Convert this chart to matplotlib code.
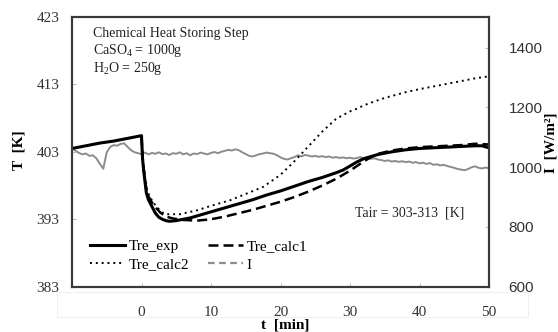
import numpy as np
import matplotlib
matplotlib.use("Agg")
import matplotlib.pyplot as plt
from matplotlib.lines import Line2D
from matplotlib.patches import Rectangle

plt.rcParams["font.family"] = ["Liberation Serif", "DejaVu Serif"]
plt.rcParams["mathtext.fontset"] = "custom"
plt.rcParams["mathtext.rm"] = "Liberation Serif"
plt.rcParams["mathtext.it"] = "Liberation Serif:italic"
plt.rcParams["mathtext.bf"] = "Liberation Serif:bold"

# --- data ---
t_exp = [-10, -8, -6, -4, -2, 0, 0.15, 0.3, 0.7, 1.0, 1.5, 2, 2.5, 3, 3.5, 4, 5, 6, 7, 8,
         10, 12, 14, 16, 18, 20, 22, 24, 26, 28, 29, 30, 31, 32, 33, 34, 36, 38, 40,
         42, 44, 46, 48, 49, 50]
T_exp = [403.5, 403.9, 404.3, 404.6, 405.0, 405.4, 402.0, 400.3, 396.9, 395.9, 394.9, 393.9,
         393.3, 393.0, 392.8, 392.7, 392.8, 393.0, 393.2, 393.5,
         394.1, 394.7, 395.3, 395.9, 396.6, 397.2, 397.9, 398.6, 399.2, 399.9, 400.3,
         400.9, 401.5, 402.0, 402.3, 402.6, 403.0, 403.3, 403.5,
         403.6, 403.7, 403.8, 403.9, 403.9, 403.6]

t_calc1 = [0, 0.15, 0.3, 0.7, 1, 1.5, 2, 2.7, 3.5, 4.6, 6, 8, 10, 12, 14, 16, 18, 20, 22,
           24, 26, 28, 30, 31, 32, 33, 34, 36, 38, 40, 42, 44, 46, 48, 50]
T_calc1 = [405.4, 402.3, 400.6, 397.4, 396.4, 395.5, 394.8, 394.0, 393.4, 393.1, 392.9, 392.8,
           393.0, 393.4, 393.9, 394.4, 395.0, 395.6, 396.3,
           397.1, 398.0, 399.0, 400.2, 400.9, 401.6, 402.2, 402.7, 403.2, 403.5, 403.7,
           403.8, 403.9, 404.0, 404.2, 404.1]

t_calc2 = [0, 0.15, 0.3, 0.7, 1, 1.5, 2.2, 3, 3.6, 5.5, 7.9, 10, 12.7, 15.1, 17.5, 20, 22,
           24, 26, 28, 30, 31, 32, 33.3, 35, 38.2, 40, 43, 46, 48, 50]
T_calc2 = [405.4, 402.4, 400.8, 397.8, 396.8, 395.8, 394.8, 394.0, 393.75, 393.75, 394.3, 395.0,
           395.8, 396.8, 397.8, 399.6, 401.6,
           403.8, 406.0, 407.9, 409.0, 409.4, 409.9, 410.4, 411.0, 411.9, 412.3, 412.9,
           413.5, 413.9, 414.2]

# irradiance I [W/m2], every 0.5 min from -10 to 50
I_vals = [1063, 1055, 1048, 1043, 1046, 1038, 1040, 1030, 1012, 995,
          1050, 1068, 1074, 1072, 1078, 1080, 1068, 1057, 1050, 1047, 1044,
          1049, 1043, 1048, 1045, 1050, 1044, 1046, 1041, 1047, 1045,
          1050, 1043, 1047, 1040, 1046, 1044, 1049, 1046, 1043, 1048,
          1051, 1047, 1052, 1055, 1058, 1056, 1060, 1057, 1050, 1044,
          1038, 1036, 1040, 1044, 1046, 1049, 1047, 1045, 1040, 1033,
          1028, 1026, 1030, 1034, 1040, 1036, 1041, 1039, 1036, 1038,
          1035, 1037, 1034, 1036, 1032, 1034, 1031, 1033, 1030, 1032,
          1029, 1031, 1034, 1030, 1032, 1028, 1030, 1026, 1024, 1021,
          1023, 1019, 1021, 1018, 1020, 1017, 1019, 1015, 1017, 1013,
          1015, 1011, 1014, 1008, 1010, 1006, 1008, 1004, 1001, 998,
          994, 992, 990, 994, 1000, 1003, 998, 996, 999, 996]
t_I = np.arange(-10, 50.01, 0.5)
assert len(t_I) == len(I_vals)

x_ticks = [0, 10, 20, 30, 40, 50]
T_ticks = [383, 393, 403, 413, 423]
I_ticks = [600, 800, 1000, 1200, 1400]

fig = plt.figure(figsize=(5.58, 3.32), dpi=100)
ax = fig.add_axes([72 / 558, 1 - 286.7 / 332, 417 / 558, 269.7 / 332])
ax2 = ax.twinx()
ax.set_zorder(ax2.get_zorder() + 1)
ax.patch.set_visible(False)

ax2.plot(t_I, I_vals, color="#8c8c8c", lw=1.4)
ax.plot(t_exp, T_exp, color="black", lw=2.2, solid_joinstyle="round")
ax.plot(t_calc1, T_calc1, color="black", lw=1.8, dashes=(4, 2))
ax.plot(t_calc2, T_calc2, color="black", lw=1.4, dashes=(1, 2))

ax.set_xlim(-10, 50)
ax.set_ylim(383, 423)
ax2.set_ylim(600, 1503)
ax.set_xticks(x_ticks)
ax.set_yticks(T_ticks)
ax2.set_yticks(I_ticks)

ax.tick_params(axis="x", direction="in", length=3, color="#bbbbbb", pad=14,
               labelsize=11, labelcolor="#333333")
ax.tick_params(axis="y", direction="in", length=3, color="#bbbbbb", pad=9,
               labelsize=11, labelcolor="#333333")
ax2.tick_params(axis="y", direction="in", length=3, color="#bbbbbb", pad=14,
                labelsize=11, labelcolor="#333333")
for lab in ax2.get_yticklabels():
    lab.set_fontfamily("Liberation Sans")

for a in (ax, ax2):
    for s in a.spines.values():
        s.set_color("#3a3a3a")
        s.set_linewidth(1.5)

fig.text(19 / 558, 1 - 150 / 332, "T  [K]", rotation=90, ha="center", va="center",
         fontsize=11, fontweight="bold")
fig.text(551 / 558, 1 - 143 / 332, "I  [W/m²]", rotation=90, ha="center", va="center",
         fontsize=11, fontweight="bold")
fig.text(285 / 558, 1 - 325 / 332, "t  [min]", ha="center", va="center",
         fontsize=11, fontweight="bold")

fig.patches.append(Rectangle((57 / 558, 1 - 317 / 332), 471 / 558, 25 / 332,
                             transform=fig.transFigure, fill=False,
                             edgecolor="#f0f0f0", lw=0.8))

ax.text(0.05, 0.94, "Chemical Heat Storing Step", transform=ax.transAxes,
        fontsize=10, va="center", ha="left", color="#222222")
ax.text(0.05, 0.875, "CaSO$_4$ = 1000g", transform=ax.transAxes,
        fontsize=10, va="center", ha="left", color="#222222")
ax.text(0.05, 0.81, "H$_2$O = 250g", transform=ax.transAxes,
        fontsize=10, va="center", ha="left", color="#222222")
ax.text(0.81, 0.273, "Tair = 303-313  [K]", transform=ax.transAxes,
        fontsize=10, va="center", ha="center", color="#222222")

handles = [
    Line2D([], [], color="black", lw=2.2),
    Line2D([], [], color="black", lw=1.4, dashes=(1, 2)),
    Line2D([], [], color="black", lw=1.8, dashes=(4, 2)),
    Line2D([], [], color="#8c8c8c", lw=1.6, dashes=(3, 2)),
]
labels = ["Tre_exp", "Tre_calc2", "Tre_calc1", "I"]
ax.legend(handles, labels, loc="lower left", ncol=2, frameon=False, fontsize=11,
          bbox_to_anchor=(0.01, 0.005), handlelength=2.3, handletextpad=0.25,
          columnspacing=1.2, labelspacing=0.3)

fig.savefig("out.png", dpi=100)
